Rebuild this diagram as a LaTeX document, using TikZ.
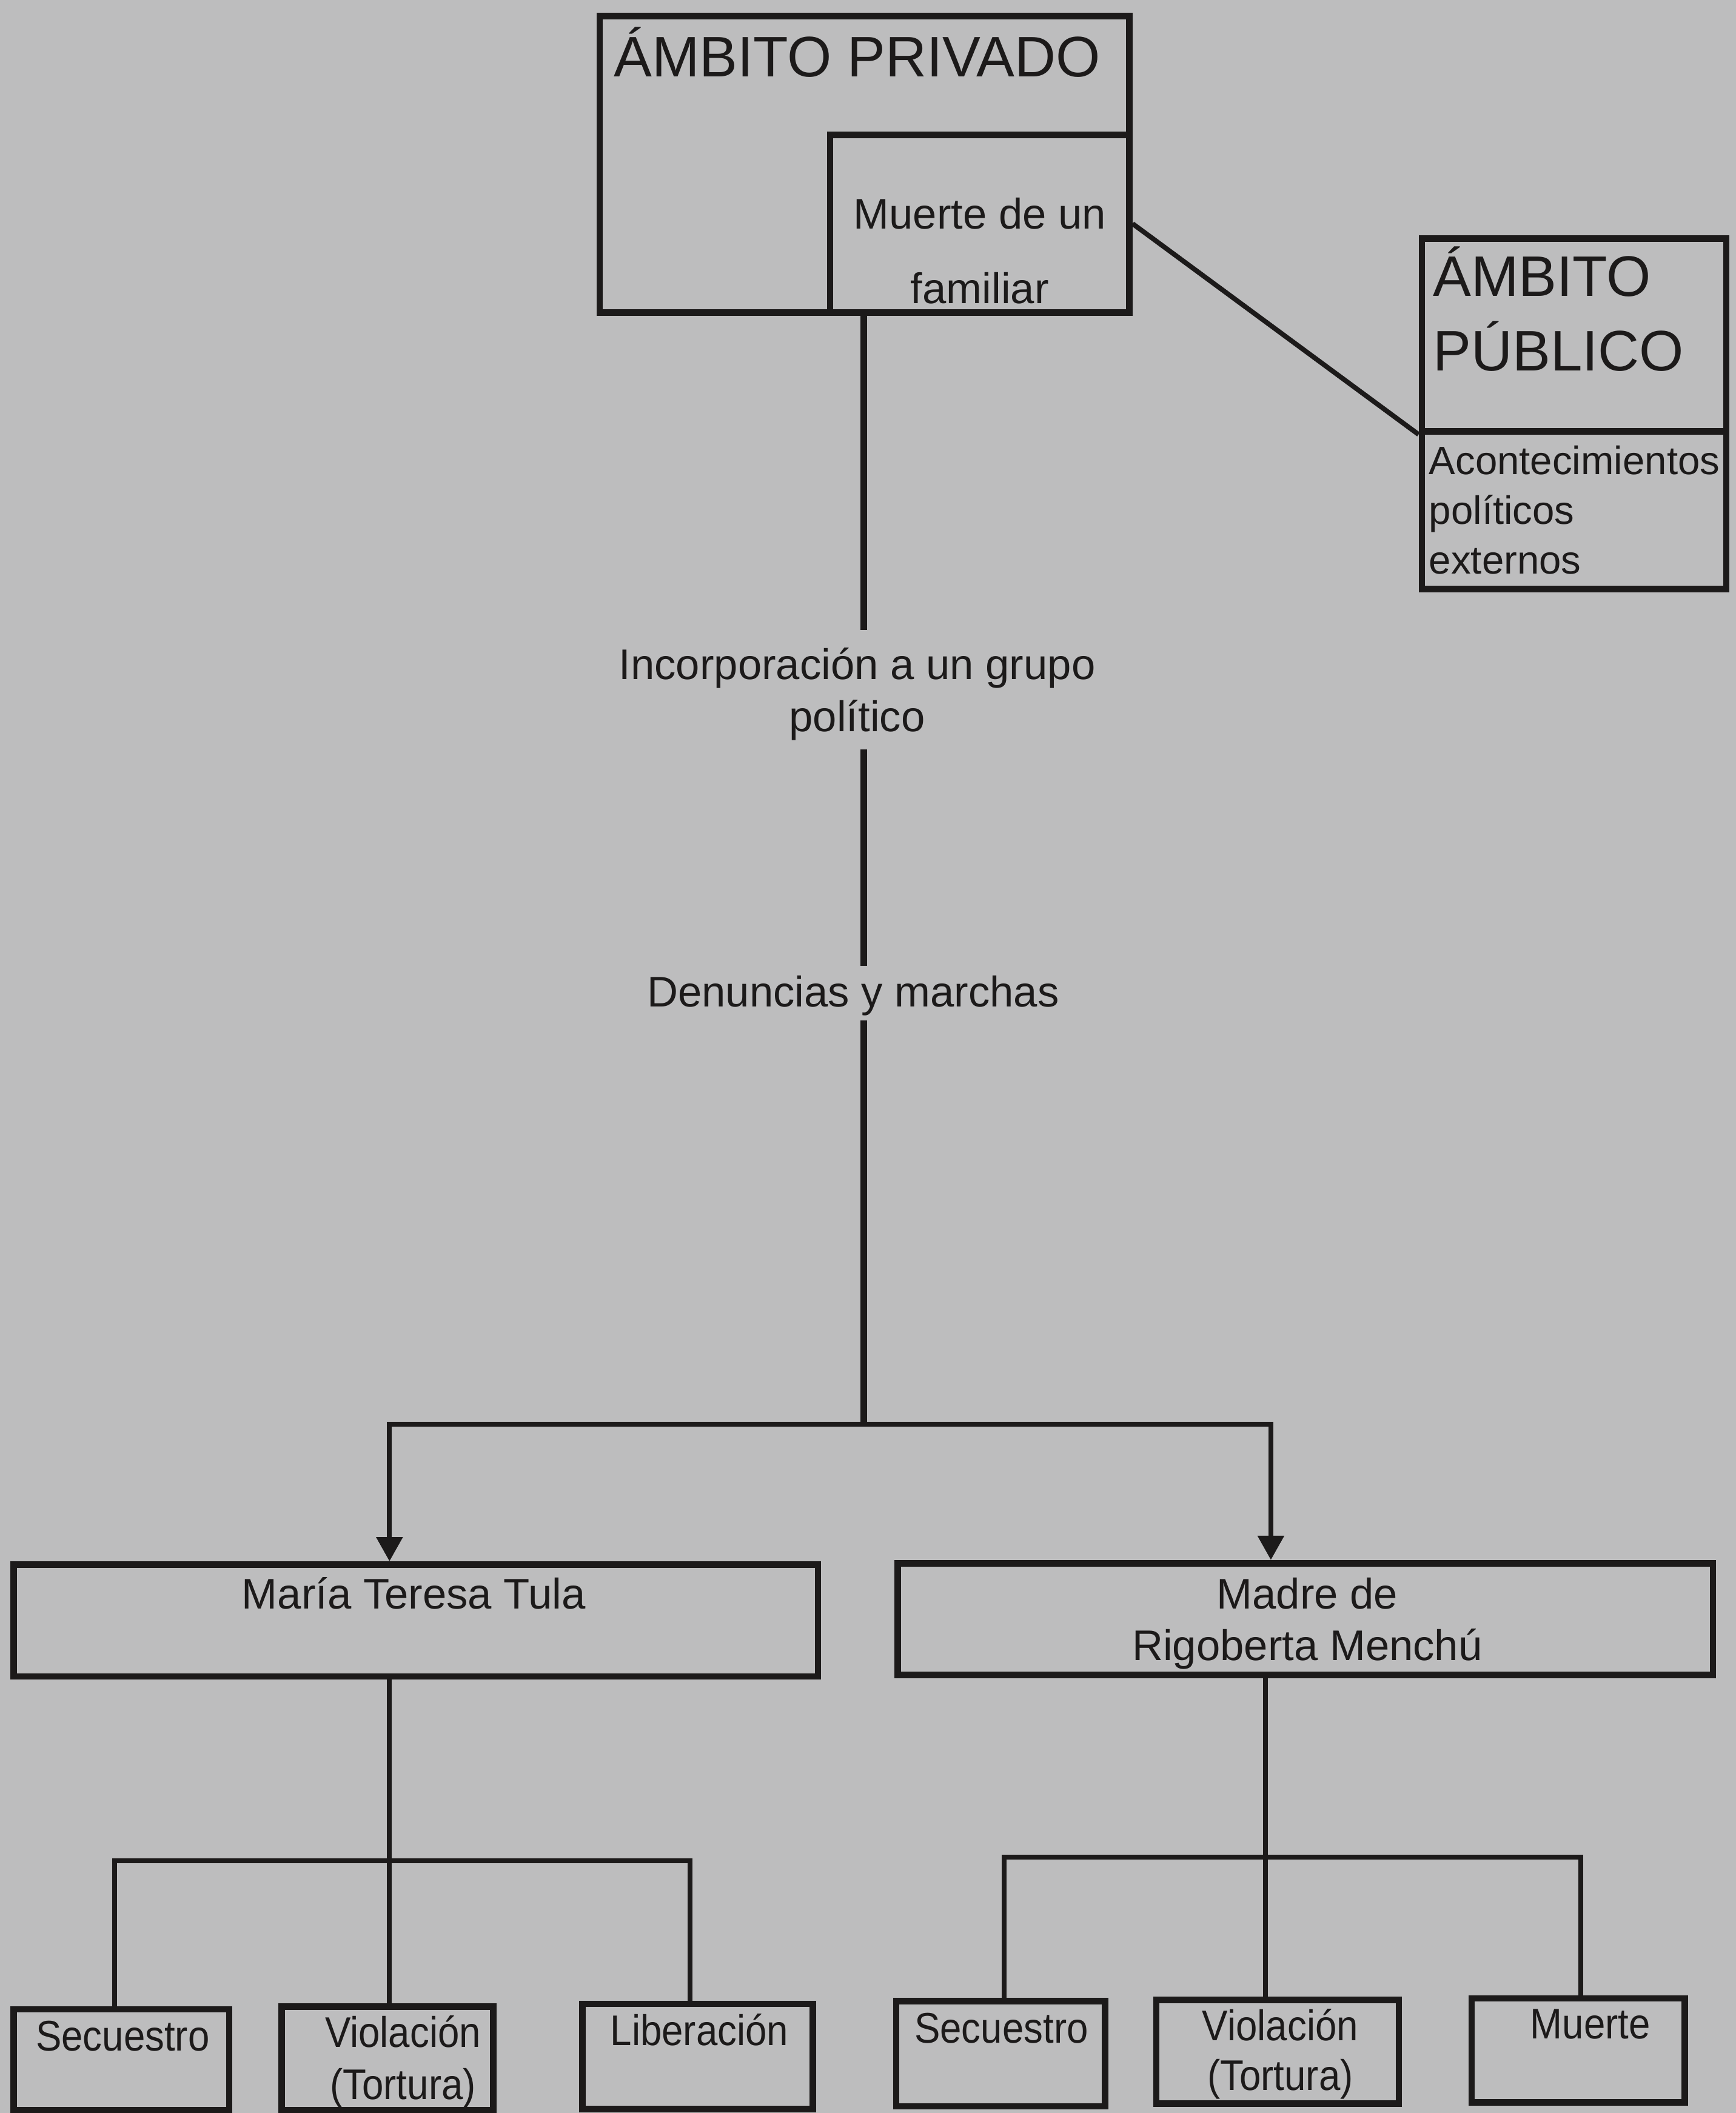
\documentclass[tikz,border=0pt]{standalone}
\usepackage{fontspec}
\setmainfont{Liberation Sans}
\newfontfamily\narrowsans[FakeStretch=0.9]{Liberation Sans}
\usetikzlibrary{arrows.meta,fit}
\definecolor{paper}{RGB}{189,189,190}
\definecolor{ink}{RGB}{28,26,26}
\begin{document}
\begin{tikzpicture}[x=0.5pt,y=-0.5pt,
  bx/.style={draw=ink, line width=2.4pt, inner sep=0pt},
  ln/.style={draw=ink, line width=1.8pt},
  mainln/.style={draw=ink, line width=2.4pt},
  ar/.style={ln, -{Triangle[length=9pt,width=9.5pt]}},
  big/.style={text=ink, inner sep=0pt, font=\fontsize{21.2}{25}\selectfont},
  txt/.style={text=ink, inner sep=0pt, font=\fontsize{15.9}{19}\selectfont},
  sml/.style={text=ink, inner sep=0pt, font=\fontsize{14.7}{18}\selectfont},
  nar/.style={text=ink, inner sep=0pt, font=\narrowsans\fontsize{15.9}{19}\selectfont},
]
\fill[paper] (0,0) rectangle (1288,1568);
\useasboundingbox (0,0) rectangle (1288,1568);

% boxes
\node[bx, fit={(445,12) (838,232)}] (priv) {};
\node[bx, fit={(616,100) (838,232)}] (muerte) {};
\node[bx, fit={(1055,177) (1281,320)}] (pubtop) {};
\node[bx, fit={(1055,320) (1281,437)}] (pubbot) {};
\node[bx, fit={(10,1161) (607,1244)}] (mtt) {};
\node[bx, fit={(666,1160) (1271,1243)}] (madre) {};
\node[bx, fit={(10,1491) (170,1566)}] (s1) {};
\node[bx, fit={(209,1489) (366,1566)}] (v1) {};
\node[bx, fit={(432,1487) (603,1565)}] (l1) {};
\node[bx, fit={(665,1485) (820,1563)}] (s2) {};
\node[bx, fit={(858,1484) (1038,1561)}] (v2) {};
\node[bx, fit={(1092,1483) (1250,1560)}] (m2) {};

% texts
\node[big, anchor=base west] (tpriv) at (455,57) {ÁMBITO PRIVADO};
\node[txt, anchor=base] (mu1) at (727,170) {Muerte de un};
\node[txt, anchor=base] (mu2) at (727,225) {familiar};
\node[big, anchor=base west] (tpub1) at (1063,220) {ÁMBITO};
\node[big, anchor=base west] (tpub2) at (1063,275) {PÚBLICO};
\node[sml, anchor=base west] (ac1) at (1060,352) {Acontecimientos};
\node[sml, anchor=base west] (ac2) at (1060,389) {políticos};
\node[sml, anchor=base west] (ac3) at (1060,426) {externos};
\node[txt, anchor=base] (inc1) at (636,504) {Incorporación a un grupo};
\node[txt, anchor=base] (inc2) at (636,543) {político};
\node[txt, anchor=base] (den) at (633,747) {Denuncias y marchas};
\node[txt, anchor=base] (tmtt) at (307,1194) {María Teresa Tula};
\node[txt, anchor=base] (tmad1) at (970,1194) {Madre de};
\node[txt, anchor=base] (tmad2) at (970,1232) {Rigoberta Menchú};
\node[nar, anchor=base] (ts1) at (91,1522) {Secuestro};
\node[nar, anchor=base] (tv1a) at (299,1519) {Violación};
\node[nar, anchor=base] (tv1b) at (299,1558) {(Tortura)};
\node[nar, anchor=base] (tl1) at (519,1518) {Liberación};
\node[nar, anchor=base] (ts2) at (743,1516) {Secuestro};
\node[nar, anchor=base] (tv2a) at (950,1514) {Violación};
\node[nar, anchor=base] (tv2b) at (950,1551) {(Tortura)};
\node[nar, anchor=base] (tm2) at (1180,1513) {Muerte};

% connectors
\draw[ln] (muerte.east) -- (pubtop.south west);

\coordinate (j1) at (641,1057);
\coordinate (jl) at (289,1057);
\coordinate (jr) at (943,1057);
\draw[mainln, shorten >=6.4pt] (priv.south -| j1) -- (inc1.north -| j1);
\draw[mainln, shorten <=3pt, shorten >=3.5pt] (inc2.south -| j1) -- (den.north -| j1);
\draw[mainln, shorten <=1.6pt] (den.south -| j1) -- (j1);
\draw[ar] (j1) -- (jl) -- (mtt.north -| jl);
\draw[ar] (j1) -- (jr) -- (madre.north -| jr);

\coordinate (k1) at (289,1381);
\coordinate (k1l) at (85,1381);
\coordinate (k1r) at (512,1381);
\draw[ln] (mtt.south -| k1) -- (v1.north -| k1);
\draw[ln] (s1.north -| k1l) -- (k1l) -- (k1r) -- (l1.north -| k1r);

\coordinate (k2) at (939,1378);
\coordinate (k2l) at (745,1378);
\coordinate (k2r) at (1173,1378);
\draw[ln] (madre.south -| k2) -- (v2.north -| k2);
\draw[ln] (s2.north -| k2l) -- (k2l) -- (k2r) -- (m2.north -| k2r);
\end{tikzpicture}
\end{document}
